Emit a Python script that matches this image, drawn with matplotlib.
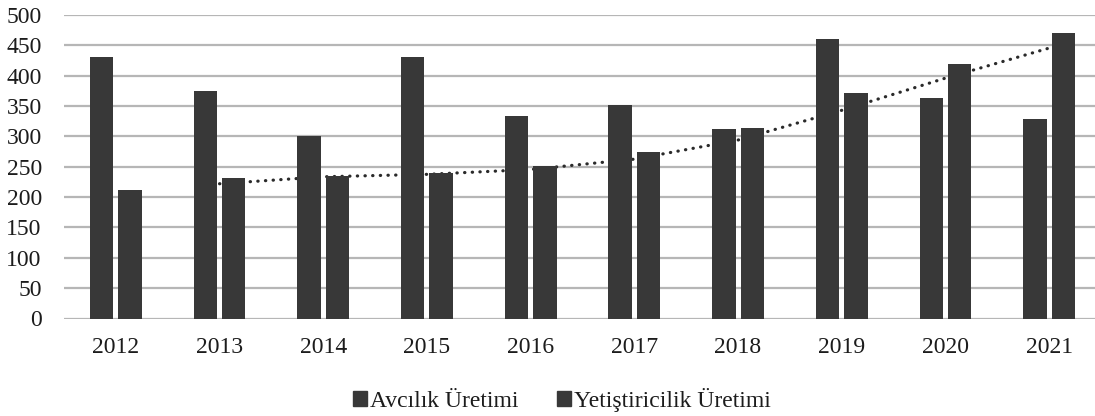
import numpy as np
import matplotlib
matplotlib.use("Agg")
import matplotlib.pyplot as plt
from matplotlib.patches import Patch

years = ["2012", "2013", "2014", "2015", "2016", "2017", "2018", "2019", "2020", "2021"]
avcilik = [431, 375, 301, 431, 334, 352, 313, 461, 363, 328]
yetistiricilik = [212, 232, 235, 240, 251, 274, 314, 372, 420, 471]

plt.rcParams["font.family"] = ["Liberation Serif", "DejaVu Serif"]

fig = plt.figure(figsize=(10.95, 4.16), dpi=100)
ax = fig.add_axes([64 / 1095, 97.5 / 416, 1037 / 1095, 303.5 / 416])

x = np.arange(len(years))
bar_color = "#383838"
ax.bar(x - 0.137, avcilik, width=0.225, color=bar_color, zorder=3)
ax.bar(x + 0.137, yetistiricilik, width=0.225, color=bar_color, zorder=3)

# 2 periyotluk hareketli ortalama (trend çizgisi, barların arkasında)
ma = np.convolve(yetistiricilik, [0.5, 0.5], mode="valid")
ax.plot(x[1:], ma, color="#2a2a2a", linewidth=2.3, linestyle=(0, (0.1, 2.3)),
        dash_capstyle="round", zorder=2)

ax.set_xlim(-0.5, 9.5)
ax.set_ylim(0, 500)
ax.set_yticks(range(0, 501, 50))
ax.set_xticks(x)
ax.set_xticklabels(years)
ax.yaxis.grid(True, color="#b6b6b6", linewidth=1.6, zorder=0)
ax.set_axisbelow(True)
for s in ax.spines.values():
    s.set_visible(False)
ax.tick_params(axis="both", length=0, labelsize=17, colors="#1c1c1c")
ax.tick_params(axis="y", pad=16)
ax.tick_params(axis="x", pad=13)

handles = [Patch(color=bar_color, label="Avcılık Üretimi"),
           Patch(color=bar_color, label="Yetiştiricilik Üretimi")]
fig.legend(handles=handles, loc="center", bbox_to_anchor=(562 / 1095, 16 / 416),
           ncol=2, frameon=False, fontsize=17, handlelength=0.6, handleheight=0.6,
           handletextpad=0.15, columnspacing=1.6, labelcolor="#1c1c1c")

fig.savefig("out.png", dpi=100)
